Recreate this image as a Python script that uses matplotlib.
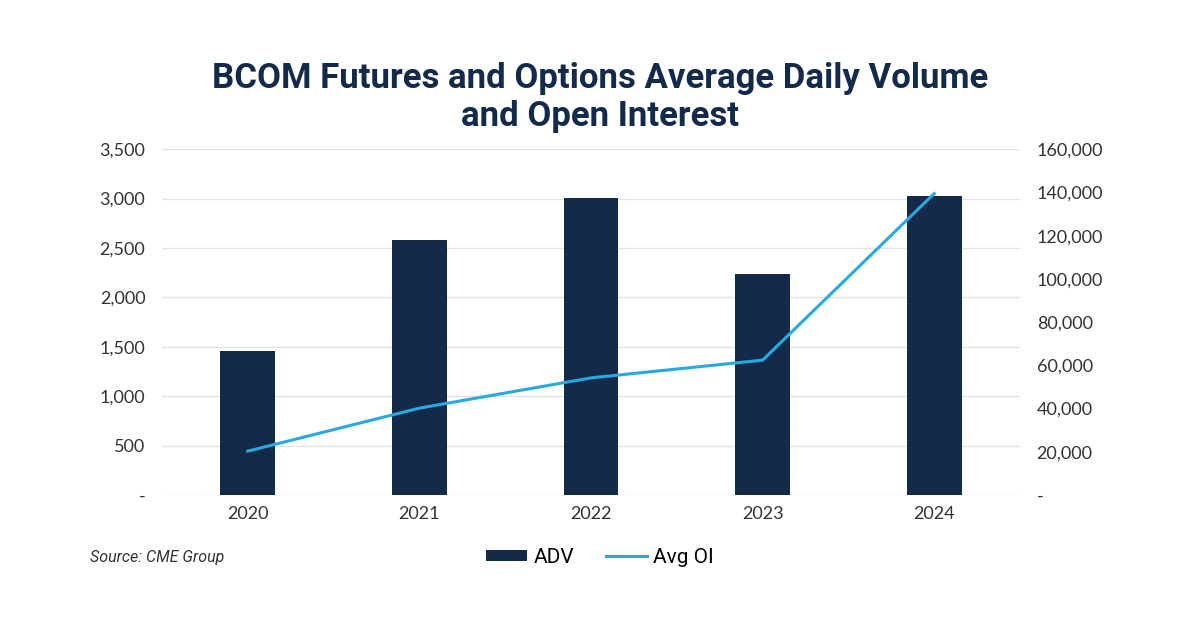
import matplotlib.pyplot as plt
from matplotlib.ticker import FuncFormatter, MultipleLocator
from matplotlib.patches import Patch
from matplotlib.lines import Line2D

years = ['2020', '2021', '2022', '2023', '2024']
adv = [1460, 2580, 3010, 2235, 3030]
avg_oi = [20300, 40200, 54200, 62400, 139500]

navy = '#142a4b'
blue = '#29a9e1'
grid_color = '#e3e3e3'


def dash_zero(v, pos):
    return '-' if v == 0 else f'{v:,.0f}'


fig = plt.figure(figsize=(12, 6.27), dpi=100)
ax = fig.add_axes([0.135, 0.2105, 0.715, 0.5515])
ax2 = ax.twinx()

x = range(len(years))
ax.bar(x, adv, width=0.32, color=navy, zorder=2)
ax2.plot(x, avg_oi, color=blue, linewidth=2.2, zorder=3)

ax.set_xlim(-0.5, len(years) - 0.5)
ax.set_ylim(0, 3500)
ax2.set_ylim(0, 160000)
ax.yaxis.set_major_locator(MultipleLocator(500))
ax2.yaxis.set_major_locator(MultipleLocator(20000))
ax.yaxis.set_major_formatter(FuncFormatter(dash_zero))
ax2.yaxis.set_major_formatter(FuncFormatter(dash_zero))
ax.set_xticks(list(x))
ax.set_xticklabels(years)

ax.grid(axis='y', color=grid_color, linewidth=1, zorder=0)
ax.set_axisbelow(True)
for a in (ax, ax2):
    for s in a.spines.values():
        s.set_visible(False)
    a.tick_params(length=0, labelsize=13, labelcolor='#333333')
ax.tick_params(axis='y', pad=12)
ax2.tick_params(axis='y', pad=12)
ax.tick_params(axis='x', pad=8)
for lbl in ax.get_yticklabels() + ax2.get_yticklabels() + ax.get_xticklabels():
    lbl.set_family('Lato')

fig.text(0.5, 0.845, 'BCOM Futures and Options Average Daily Volume\nand Open Interest',
         ha='center', va='center', fontsize=25, fontweight='bold', color=navy,
         family='Roboto', linespacing=1.2)

fig.text(0.075, 0.111, 'Source: CME Group', ha='left', va='center', fontsize=11.5,
         style='italic', color='#333333', family='Roboto')

handles = [Patch(facecolor=navy, edgecolor='none'),
           Line2D([0], [0], color=blue, linewidth=2.2)]
fig.legend(handles, ['ADV', 'Avg OI'], loc='center', bbox_to_anchor=(0.5, 0.111),
           ncol=2, frameon=False, handlelength=2.0, handleheight=0.5, columnspacing=1.5,
           handletextpad=0.3, prop={'family': 'Roboto', 'size': 15})

fig.savefig('out.png', dpi=100, facecolor='white')
